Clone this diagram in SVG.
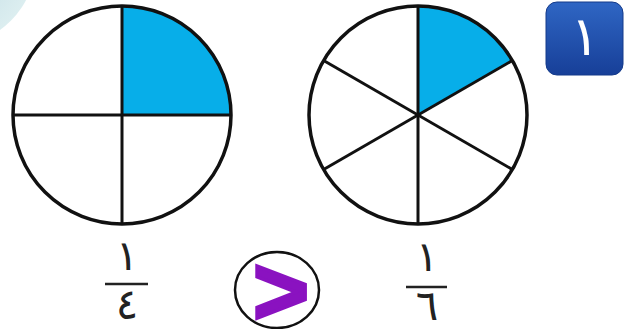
<svg xmlns="http://www.w3.org/2000/svg" width="641" height="329" viewBox="0 0 641 329">
<defs>
<linearGradient id="badgeGrad" x1="0" y1="0" x2="0" y2="1">
<stop offset="0" stop-color="#2f66c4"/>
<stop offset="1" stop-color="#173f98"/>
</linearGradient>
<radialGradient id="deco" cx="0.5" cy="0.5" r="0.5">
<stop offset="0.6" stop-color="#cfe5ea"/>
<stop offset="1" stop-color="#dceef0"/>
</radialGradient>
</defs>
<style>
.rim{fill:none;stroke:#111;stroke-width:3.5}
.div{stroke:#111;stroke-width:3}
.part{fill:#07aee9}
.bar{stroke:#222;stroke-width:2.5}
.num{font-family:"DejaVu Sans","Noto Sans",sans-serif;font-size:42px;fill:#222;text-anchor:middle}
</style>
<rect width="641" height="329" fill="#ffffff"/>
<circle cx="-50" cy="-40" r="86" fill="url(#deco)"/>
<g id="pie-quarters">
<path class="part" d="M122,115 L122,6 A109,109 0 0 1 231,115 Z"/>
<line class="div" x1="122" y1="6" x2="122" y2="224"/>
<line class="div" x1="13" y1="115" x2="231" y2="115"/>
<circle class="rim" cx="122" cy="115" r="109"/>
</g>
<g id="pie-sixths">
<path class="part" d="M418,115 L418,6 A109,109 0 0 1 512.4,60.5 Z"/>
<line class="div" x1="418" y1="6" x2="418" y2="224"/>
<line class="div" x1="512.4" y1="60.5" x2="323.6" y2="169.5"/>
<line class="div" x1="323.6" y1="60.5" x2="512.4" y2="169.5"/>
<circle class="rim" cx="418" cy="115" r="109"/>
</g>
<g id="badge">
<rect x="546" y="2" width="77" height="73" rx="11" fill="url(#badgeGrad)" stroke="#143a8a" stroke-width="1"/>
<text x="585" y="55" font-family="DejaVu Sans, sans-serif" font-size="54" fill="#ffffff" text-anchor="middle">١</text>
</g>
<g id="fraction-quarter">
<text class="num" x="127" y="270">١</text>
<line class="bar" x1="105" y1="284" x2="148" y2="284"/>
<text class="num" x="127" y="319">٤</text>
</g>
<g id="compare">
<ellipse cx="277" cy="290" rx="42" ry="38" fill="#ffffff" stroke="#111" stroke-width="2.5"/>
<text x="281" y="324" font-family="Liberation Sans, Arial, sans-serif" font-weight="bold" font-size="96" fill="#8a12c0" stroke="#8a12c0" stroke-width="3.5" text-anchor="middle">&gt;</text>
</g>
<g id="fraction-sixth">
<text class="num" x="427" y="271">١</text>
<line class="bar" x1="406" y1="287" x2="447" y2="287"/>
<text class="num" x="427" y="320">٦</text>
</g>
</svg>
